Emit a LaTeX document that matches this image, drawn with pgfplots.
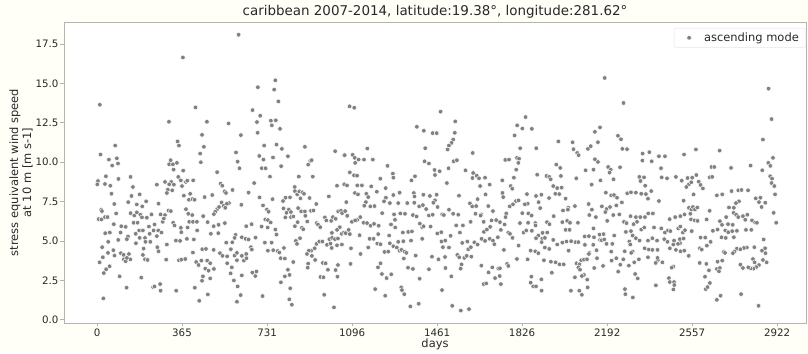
\documentclass[border=0pt]{standalone}
\usepackage{fontspec}
\setmainfont{DejaVu Sans}
\usepackage{pgfplots}
\pgfplotsset{compat=1.18}
\definecolor{bgc}{RGB}{255,255,248}
\definecolor{dotc}{RGB}{128,128,128}
\definecolor{spinec}{RGB}{180,180,172}
\definecolor{txtc}{RGB}{40,40,40}
\begin{document}
\begin{tikzpicture}
\fill[bgc] (-64bp,-28bp) rectangle (744bp,323bp);
\begin{axis}[
  at={(0,0)}, anchor=south west,
  scale only axis, width=742bp, height=301bp,
  xmin=-142, xmax=3046, ymin=-0.2, ymax=18.9,
  axis background/.style={fill=white},
  axis line style={spinec, line width=0.8bp},
  tick align=outside, xtick pos=left, ytick pos=left,
  major tick length=3.5bp,
  every tick/.style={spinec, line width=0.8bp},
  xtick={0,365,731,1096,1461,1826,2192,2557,2922},
  ytick={0,2.5,5,7.5,10,12.5,15,17.5},
  /pgf/number format/assume math mode=true,
  yticklabel style={xshift=1.5bp, /pgf/number format/.cd, fixed, fixed zerofill, precision=1},
  xticklabel style={yshift=1bp, /pgf/number format/.cd, fixed, set thousands separator={}},
  tick label style={font=\fontsize{10.3}{12}\selectfont, color=txtc},
  title={caribbean 2007-2014, latitude:19.38°, longitude:281.62°},
  every axis title/.style={at={(rel axis cs:0.5,1)}, anchor=base, yshift=6.5bp, font=\fontsize{13.5}{15}\selectfont, color=txtc},
  xlabel={days},
  every axis x label/.style={at={(rel axis cs:0.5,0)}, anchor=base, yshift=-25bp, font=\fontsize{11.5}{13}\selectfont, color=txtc},
  ylabel={stress equivalent wind speed\\at 10 m [m s-1]},
  every axis y label/.style={at={(rel axis cs:0,0.5)}, xshift=-43bp, rotate=90, anchor=center, align=center, font=\fontsize{11.5}{13}\selectfont, color=txtc},
  legend style={at={(rel axis cs:1,1)}, anchor=north east, xshift=0bp, yshift=-6bp, draw=gray!20, rounded corners=2bp, fill=white, font=\fontsize{11.5}{13}\selectfont, text=txtc, inner xsep=5bp, inner ysep=2.5bp},
  legend cell align=left,
  legend image code/.code={\path[draw=none, fill=none] (0bp,0bp) -- (23bp,0bp); \path[#1] plot[only marks] coordinates {(10bp,0bp)};},
]
\addplot[only marks, mark=*, mark size=2.3bp, mark options={fill=dotc, draw=white, line width=0.45bp}] coordinates {
(12,13.65) (15,10.49) (78,11.06) (51,10.17) (85,10.25) (90,9.92) (65,9.79) (38,9.11) (4,8.81) (1,8.60)
(34,8.62) (57,8.51) (92,8.94) (62,8.00) (144,9.07) (154,8.43) (148,7.86) (183,7.96) (74,7.35) (18,6.98)
(21,6.90) (7,6.39) (19,6.37) (34,6.52) (45,6.52) (82,6.75) (134,7.47) (171,7.32) (194,7.20) (211,7.52)
(144,6.77) (160,6.62) (171,6.82) (186,6.67) (157,6.16) (174,6.16) (193,6.50) (214,6.48) (234,6.69) (72,6.07)
(104,5.94) (123,5.90) (35,5.50) (55,5.54) (101,5.54) (181,5.67) (197,5.67) (166,5.46) (183,5.20) (206,5.20)
(226,5.46) (243,5.67) (223,5.92) (48,4.95) (91,5.07) (133,5.29) (128,5.12) (167,4.86) (208,4.95) (229,4.95)
(70,4.42) (22,4.61) (47,4.25) (11,3.65) (25,3.97) (75,4.08) (102,4.23) (114,4.12) (137,4.18) (115,3.84)
(123,3.72) (143,3.84) (128,3.93) (200,4.52) (197,4.12) (206,3.84) (217,3.80) (29,2.97) (39,3.21) (54,3.40)
(97,2.76) (190,2.68) (127,2.04) (241,2.08) (27,1.36)
(608,18.09) (369,16.65) (423,13.48) (309,12.57) (472,12.57) (565,12.46) (451,11.74) (618,11.72) (346,11.32) (352,11.06)
(459,10.98) (443,10.55) (597,10.62) (446,10.00) (604,10.04) (612,9.62) (316,10.13) (310,9.87) (326,9.87) (343,9.96)
(329,9.53) (370,9.47) (349,9.07) (257,8.58) (292,8.75) (319,8.75) (310,8.60) (330,8.58) (360,8.85) (365,8.49)
(382,8.75) (388,8.83) (413,8.85) (516,9.37) (531,8.64) (538,8.51) (304,8.26) (300,8.05) (323,8.22) (400,8.00)
(373,7.88) (548,8.15) (554,8.05) (582,8.24) (651,8.07) (264,7.37) (462,7.79) (495,7.92) (395,7.62) (410,7.66)
(419,7.62) (620,7.30) (535,7.45) (567,7.41) (307,6.94) (317,6.90) (273,6.69) (292,6.65) (382,7.02) (392,6.73)
(409,6.65) (516,7.02) (508,6.86) (502,6.71) (524,7.16) (544,7.24) (551,7.11) (558,7.37) (456,6.58) (396,6.22)
(412,6.22) (429,6.22) (247,6.05) (282,6.22) (287,6.43) (327,6.16) (333,5.99) (501,5.94) (522,6.03) (549,6.14)
(475,6.20) (360,5.84) (389,5.86) (430,5.67) (641,5.94) (263,5.67) (277,5.54) (257,5.31) (489,5.46) (521,5.50)
(362,5.56) (339,5.03) (357,5.01) (386,5.14) (416,5.10) (300,4.78) (595,5.39) (591,5.20) (622,5.24) (638,5.14)
(651,5.10) (259,4.61) (264,4.35) (555,4.90) (581,4.92) (575,4.48) (452,4.48) (468,4.50) (412,4.27) (501,4.44)
(528,4.23) (539,4.06) (559,4.03) (591,4.08) (601,4.25) (622,4.06) (641,4.18) (297,3.82) (352,3.78) (362,3.82)
(379,3.86) (426,3.67) (448,3.76) (436,3.48) (473,3.76) (486,3.59) (465,3.25) (502,3.23) (479,3.12) (559,3.59)
(579,3.33) (601,3.78) (631,3.76) (642,3.91) (455,2.76) (486,2.63) (451,2.48) (574,2.95) (588,2.50) (604,2.12)
(622,2.82) (247,2.12) (271,2.27) (273,1.85) (340,1.85) (420,2.04) (476,1.61) (439,1.21) (601,1.15) (617,1.57)
(766,15.20) (691,14.76) (761,14.61) (779,13.86) (668,13.31) (701,12.95) (687,12.55) (690,11.87) (747,12.64) (768,12.66)
(751,12.34) (786,12.12) (718,11.06) (771,11.12) (794,10.85) (820,10.38) (893,10.98) (1023,10.70) (1061,10.45) (697,10.40)
(715,10.17) (756,10.30) (791,9.75) (708,9.62) (724,9.62) (907,9.85) (916,10.09) (922,10.13) (675,8.68) (743,9.09)
(867,9.09) (927,9.09) (849,8.43) (850,8.17) (860,7.96) (869,8.15) (882,8.09) (889,8.00) (1031,8.51) (1062,8.60)
(698,7.77) (754,7.66) (810,7.75) (829,7.77) (874,7.71) (913,7.73) (996,7.83) (713,7.26) (730,7.00) (737,6.86)
(799,7.54) (801,7.07) (824,7.00) (833,6.84) (814,6.79) (864,7.09) (877,6.88) (893,6.88) (919,6.92) (942,7.35)
(809,6.50) (833,6.52) (843,6.56) (895,6.60) (930,6.94) (723,6.37) (734,6.33) (746,6.18) (979,6.50) (985,6.31)
(1006,6.28) (1013,6.52) (1025,6.41) (1036,6.88) (1048,6.92) (1053,6.77) (664,6.07) (707,5.92) (733,5.86) (766,5.73)
(771,5.41) (862,6.20) (903,6.24) (943,6.14) (949,6.05) (959,5.88) (850,5.94) (880,5.84) (886,5.75) (1043,5.88)
(1031,5.71) (1009,5.52) (854,5.01) (859,4.82) (872,5.18) (681,5.22) (721,4.90) (750,4.90) (661,4.61) (665,4.46)
(734,4.39) (757,4.42) (776,4.37) (783,4.27) (803,4.56) (920,4.39) (935,4.54) (943,4.82) (955,4.97) (968,4.97)
(988,4.76) (998,5.12) (1010,5.20) (1022,5.12) (1035,5.16) (1051,5.46) (1061,5.54) (1003,4.84) (1008,4.56) (1031,4.73)
(1052,4.78) (910,4.39) (902,4.18) (923,4.06) (789,3.91) (807,3.89) (843,3.67) (907,3.57) (905,3.31) (937,3.80)
(970,3.61) (982,3.59) (992,3.18) (667,3.00) (680,2.78) (685,3.07) (820,3.18) (807,2.76) (827,2.85) (960,2.72)
(973,2.70) (1025,3.16) (1035,3.48) (1033,2.74) (790,2.38) (830,2.00) (711,1.51) (826,1.30) (837,0.96) (976,1.59)
(1018,0.79)
(1085,13.55) (1105,13.46) (1374,12.25) (1404,12.00) (1442,11.85) (1459,11.85) (1161,10.87) (1410,10.89) (1064,10.45) (1098,10.47)
(1107,10.28) (1124,10.17) (1147,10.17) (1185,10.17) (1109,9.96) (1407,10.06) (1426,9.92) (1248,9.77) (1086,9.36) (1104,9.17)
(1117,9.15) (1271,9.28) (1273,9.02) (1217,8.96) (1450,9.51) (1452,9.19) (1366,9.11) (1351,8.85) (1074,8.53) (1118,8.53)
(1138,8.53) (1178,8.47) (1202,8.13) (1240,8.36) (1108,8.05) (1121,7.96) (1157,8.00) (1165,7.79) (1273,7.92) (1300,8.07)
(1361,8.05) (1402,7.94) (1430,7.86) (1459,7.94) (1452,7.58) (1445,7.43) (1463,7.16) (1071,7.47) (1155,7.47) (1148,7.24)
(1241,7.75) (1233,7.52) (1258,7.41) (1333,7.41) (1294,7.41) (1364,7.83) (1363,7.43) (1384,7.20) (1400,7.28) (1414,7.03)
(1066,6.90) (1075,6.60) (1174,7.20) (1192,7.22) (1225,6.77) (1276,6.69) (1303,6.75) (1323,6.73) (1357,6.65) (1373,6.56)
(1426,6.62) (1442,6.67) (1118,6.35) (1131,6.52) (1095,6.22) (1109,6.31) (1145,6.16) (1160,6.14) (1175,5.97) (1190,6.09)
(1210,5.97) (1280,6.35) (1263,6.05) (1281,5.86) (1387,6.11) (1397,5.88) (1403,5.94) (1433,5.92) (1081,5.71) (1068,5.50)
(1086,5.44) (1128,5.37) (1208,5.44) (1188,5.14) (1255,5.35) (1314,5.54) (1337,5.58) (1353,5.61) (1397,5.14) (1462,5.48)
(1258,4.86) (1294,4.95) (1316,4.99) (1171,5.14) (1165,4.59) (1091,4.54) (1132,4.18) (1204,4.84) (1218,4.80) (1235,4.31)
(1251,4.33) (1273,4.67) (1288,4.59) (1300,4.39) (1308,4.44) (1321,4.33) (1329,4.25) (1349,5.03) (1318,3.89) (1369,4.08)
(1439,4.01) (1467,3.84) (1089,3.55) (1207,3.33) (1218,3.59) (1336,3.31) (1357,3.23) (1426,3.21) (1224,2.91) (1244,2.65)
(1264,2.89) (1386,2.61) (1195,1.95) (1238,1.53) (1307,2.06) (1310,1.89) (1320,1.63) (1346,0.85) (1382,1.02)
(1476,13.21) (1539,12.59) (1537,11.87) (1530,11.44) (1523,11.23) (1512,11.06) (1506,10.81) (1614,10.59) (1532,10.06) (1546,10.13)
(1472,9.43) (1510,9.62) (1583,9.49) (1503,8.68) (1616,9.32) (1631,9.15) (1613,9.00) (1641,8.98) (1667,9.02) (1646,8.49)
(1687,8.58) (1741,8.85) (1841,12.87) (1805,12.34) (1827,12.14) (1868,12.12) (1794,11.70) (1818,10.89) (1754,10.15) (1770,10.17)
(1804,10.28) (1813,10.23) (1801,9.53) (1810,9.96) (1791,9.02) (1777,8.49) (1784,8.32) (1742,8.05) (1745,7.79) (1555,7.88)
(1669,7.96) (1635,7.66) (1847,7.98) (1800,7.54) (1811,7.58) (1602,7.39) (1612,7.20) (1629,7.22) (1651,6.69) (1681,7.22)
(1701,6.90) (1773,7.20) (1787,7.33) (1850,7.37) (1838,7.33) (1827,6.77) (1853,6.75) (1867,6.62) (1483,6.69) (1490,6.65)
(1512,6.99) (1530,6.73) (1552,6.67) (1626,6.73) (1648,6.62) (1758,6.75) (1755,6.52) (1543,5.99) (1572,5.99) (1605,6.22)
(1661,6.22) (1695,6.31) (1715,6.33) (1731,6.20) (1751,6.05) (1817,6.14) (1852,6.16) (1479,5.56) (1559,5.54) (1662,5.58)
(1675,5.73) (1689,5.90) (1735,5.71) (1767,5.54) (1774,5.46) (1785,5.20) (1833,5.54) (1844,5.67) (1868,5.65) (1480,4.97)
(1496,5.03) (1519,5.33) (1569,4.88) (1591,4.97) (1621,4.92) (1635,4.78) (1652,5.14) (1667,5.01) (1687,5.14) (1701,5.03)
(1722,5.24) (1595,4.48) (1606,4.61) (1707,4.80) (1748,4.44) (1811,4.71) (1863,4.39) (1486,4.61) (1495,3.99) (1512,4.59)
(1548,4.12) (1556,3.97) (1578,3.93) (1588,4.06) (1608,4.01) (1566,3.52) (1562,3.25) (1651,3.44) (1698,3.33) (1724,3.25)
(1731,3.27) (1762,3.55) (1767,3.42) (1804,3.86) (1850,3.84) (1497,3.29) (1522,2.76) (1661,2.27) (1672,2.31) (1682,3.01)
(1710,2.65) (1730,2.78) (1735,2.27) (1866,2.74) (1863,2.36) (1874,2.12) (1482,1.89) (1526,0.89) (1563,0.59) (1598,0.68)
(2181,15.35) (2262,13.76) (2161,12.21) (2139,11.93) (2152,11.27) (2238,11.68) (2251,11.46) (2257,10.85) (2277,10.83) (1887,10.89)
(1982,11.32) (2043,11.27) (2047,10.83) (2063,10.59) (2069,10.45) (2109,10.85) (2121,11.02) (2139,10.19) (2152,10.02) (1973,9.85)
(1990,9.64) (2099,9.49) (2133,9.53) (2196,9.70) (2207,9.53) (2202,9.34) (2247,9.68) (1891,9.21) (1931,9.13) (1943,9.07)
(1949,8.92) (1993,9.13) (2059,8.98) (2163,8.85) (2219,8.92) (2125,8.58) (1960,8.49) (1977,8.36) (1996,8.39) (1909,7.94)
(1969,8.00) (1986,7.98) (2013,7.69) (2025,7.11) (1942,7.73) (1886,7.86) (2186,8.07) (2209,7.90) (2221,7.92) (2234,7.75)
(2255,7.45) (2278,8.03) (1897,7.47) (1904,7.09) (2002,6.94) (2023,6.99) (2053,7.22) (2112,7.35) (2126,6.99) (2115,6.65)
(2169,7.20) (2189,7.03) (2184,6.84) (2204,7.16) (2231,7.26) (2218,6.65) (2244,6.69) (1962,6.58) (1883,6.14) (1884,5.99)
(1933,6.20) (1944,6.07) (1999,6.20) (2020,6.28) (2032,6.16) (2066,6.16) (2143,6.52) (2192,6.28) (2264,6.22) (2275,6.14)
(1914,5.52) (1934,5.54) (1896,5.35) (1886,5.18) (2013,5.71) (2030,5.71) (2133,5.80) (2272,5.58) (1913,5.16) (1924,5.20)
(1910,4.93) (1977,4.78) (1960,5.07) (1999,4.90) (2017,4.97) (2037,4.99) (2056,4.93) (2068,4.93) (2095,5.29) (2113,5.31)
(2135,5.24) (2159,5.41) (2176,5.44) (2161,5.07) (2168,5.05) (2179,5.10) (2189,4.82) (2214,4.82) (2222,5.35) (2287,4.97)
(1883,4.35) (1896,4.23) (1924,4.59) (1943,4.50) (2026,4.39) (2096,4.76) (2115,4.25) (2132,4.76) (2146,4.42) (2209,4.33)
(2267,4.35) (1920,3.78) (1950,3.69) (1970,3.65) (1987,3.52) (2005,3.52) (2060,3.59) (2072,3.52) (2080,3.78) (2092,3.82)
(2105,3.84) (2113,4.18) (2136,3.29) (2148,3.91) (2174,3.42) (2211,3.76) (2231,3.91) (2248,3.50) (2261,3.84) (2285,3.44)
(2068,3.33) (2075,3.18) (1954,2.99) (2092,2.85) (2083,2.78) (2106,2.55) (2053,2.70) (2108,2.06) (2239,3.06) (1909,2.57)
(1886,2.12) (1910,1.85) (2036,1.85) (2072,1.85) (2083,1.59) (2268,1.95) (2270,1.63)
(2302,1.42) (2344,10.55) (2373,10.64) (2343,10.11) (2383,10.06) (2414,10.38) (2440,10.38) (2522,10.49) (2573,10.81) (2675,10.74)
(2423,9.62) (2330,9.07) (2350,9.04) (2335,8.81) (2355,8.51) (2426,9.04) (2449,8.98) (2487,9.07) (2512,8.83) (2537,9.00)
(2557,9.02) (2575,9.19) (2585,8.77) (2593,8.56) (2603,8.34) (2640,9.70) (2652,9.70) (2632,9.04) (2643,9.07) (2294,8.09)
(2315,8.07) (2338,8.00) (2358,7.98) (2381,8.17) (2367,7.69) (2414,7.54) (2543,8.60) (2553,8.73) (2532,8.43) (2520,7.56)
(2563,7.96) (2663,7.90) (2686,7.96) (2543,7.11) (2553,7.00) (2560,7.16) (2569,7.00) (2579,7.13) (2632,6.92) (2524,6.69)
(2549,6.73) (2292,6.58) (2315,6.52) (2334,6.52) (2354,6.52) (2368,6.75) (2388,6.75) (2460,6.39) (2484,6.52) (2506,6.58)
(2552,6.37) (2568,6.31) (2580,6.28) (2676,6.26) (2619,6.37) (2305,6.07) (2320,6.22) (2338,5.73) (2351,5.86) (2393,5.86)
(2424,5.80) (2440,5.54) (2453,5.67) (2463,5.63) (2497,5.80) (2506,5.92) (2517,5.54) (2526,5.69) (2555,5.63) (2593,5.22)
(2613,5.22) (2646,5.65) (2666,5.73) (2685,6.03) (2294,5.63) (2301,5.35) (2315,5.18) (2331,5.03) (2367,5.03) (2386,5.18)
(2406,5.03) (2437,5.12) (2451,4.95) (2479,5.03) (2504,5.12) (2520,5.16) (2505,4.86) (2496,4.82) (2636,4.95) (2683,5.24)
(2291,4.78) (2301,4.33) (2353,4.54) (2371,4.46) (2386,4.44) (2408,4.44) (2461,4.54) (2476,4.78) (2487,4.44) (2507,4.35)
(2523,4.39) (2542,4.06) (2590,4.54) (2598,4.46) (2620,4.71) (2693,4.31) (2295,4.25) (2308,3.65) (2328,3.84) (2367,3.97)
(2410,3.80) (2408,3.93) (2429,3.65) (2400,3.61) (2476,3.38) (2469,3.31) (2589,3.61) (2618,3.55) (2666,3.69) (2686,3.76)
(2629,3.14) (2663,3.23) (2676,3.29) (2672,3.08) (2312,2.91) (2323,2.63) (2401,2.19) (2457,2.65) (2461,2.40) (2479,2.40)
(2476,1.93) (2480,2.21) (2612,2.74) (2633,2.34) (2615,1.95) (2623,2.08) (2663,1.27) (2679,1.53)
(2885,14.67) (2898,12.74) (2861,11.44) (2904,10.28) (2884,9.96) (2893,9.77) (2858,9.49) (2724,9.64) (2808,9.79) (2892,9.11)
(2900,8.96) (2898,8.68) (2910,8.49) (2913,7.96) (2726,8.17) (2755,8.22) (2769,8.24) (2797,8.22) (2830,7.71) (2850,7.75)
(2844,7.47) (2855,7.16) (2871,7.43) (2758,7.52) (2745,7.41) (2715,7.13) (2736,7.11) (2703,6.52) (2735,6.79) (2746,6.67)
(2755,6.52) (2775,6.58) (2794,6.67) (2814,6.31) (2827,6.18) (2835,6.16) (2785,6.35) (2907,6.79) (2918,6.16) (2711,6.07)
(2731,6.03) (2699,5.67) (2712,5.56) (2729,5.63) (2749,5.65) (2788,5.71) (2811,5.71) (2736,5.24) (2701,5.20) (2864,5.10)
(2870,4.54) (2857,4.39) (2824,4.61) (2792,4.59) (2779,4.56) (2749,4.52) (2764,4.48) (2739,4.33) (2732,4.23) (2698,4.25)
(2872,4.23) (2861,3.80) (2877,3.65) (2844,3.48) (2832,3.35) (2820,3.25) (2808,3.27) (2798,3.33) (2818,3.86) (2825,3.65)
(2764,3.50) (2775,3.29) (2767,1.63) (2842,0.89)
};
\addlegendentry{ascending mode}
\end{axis}
\end{tikzpicture}
\end{document}
